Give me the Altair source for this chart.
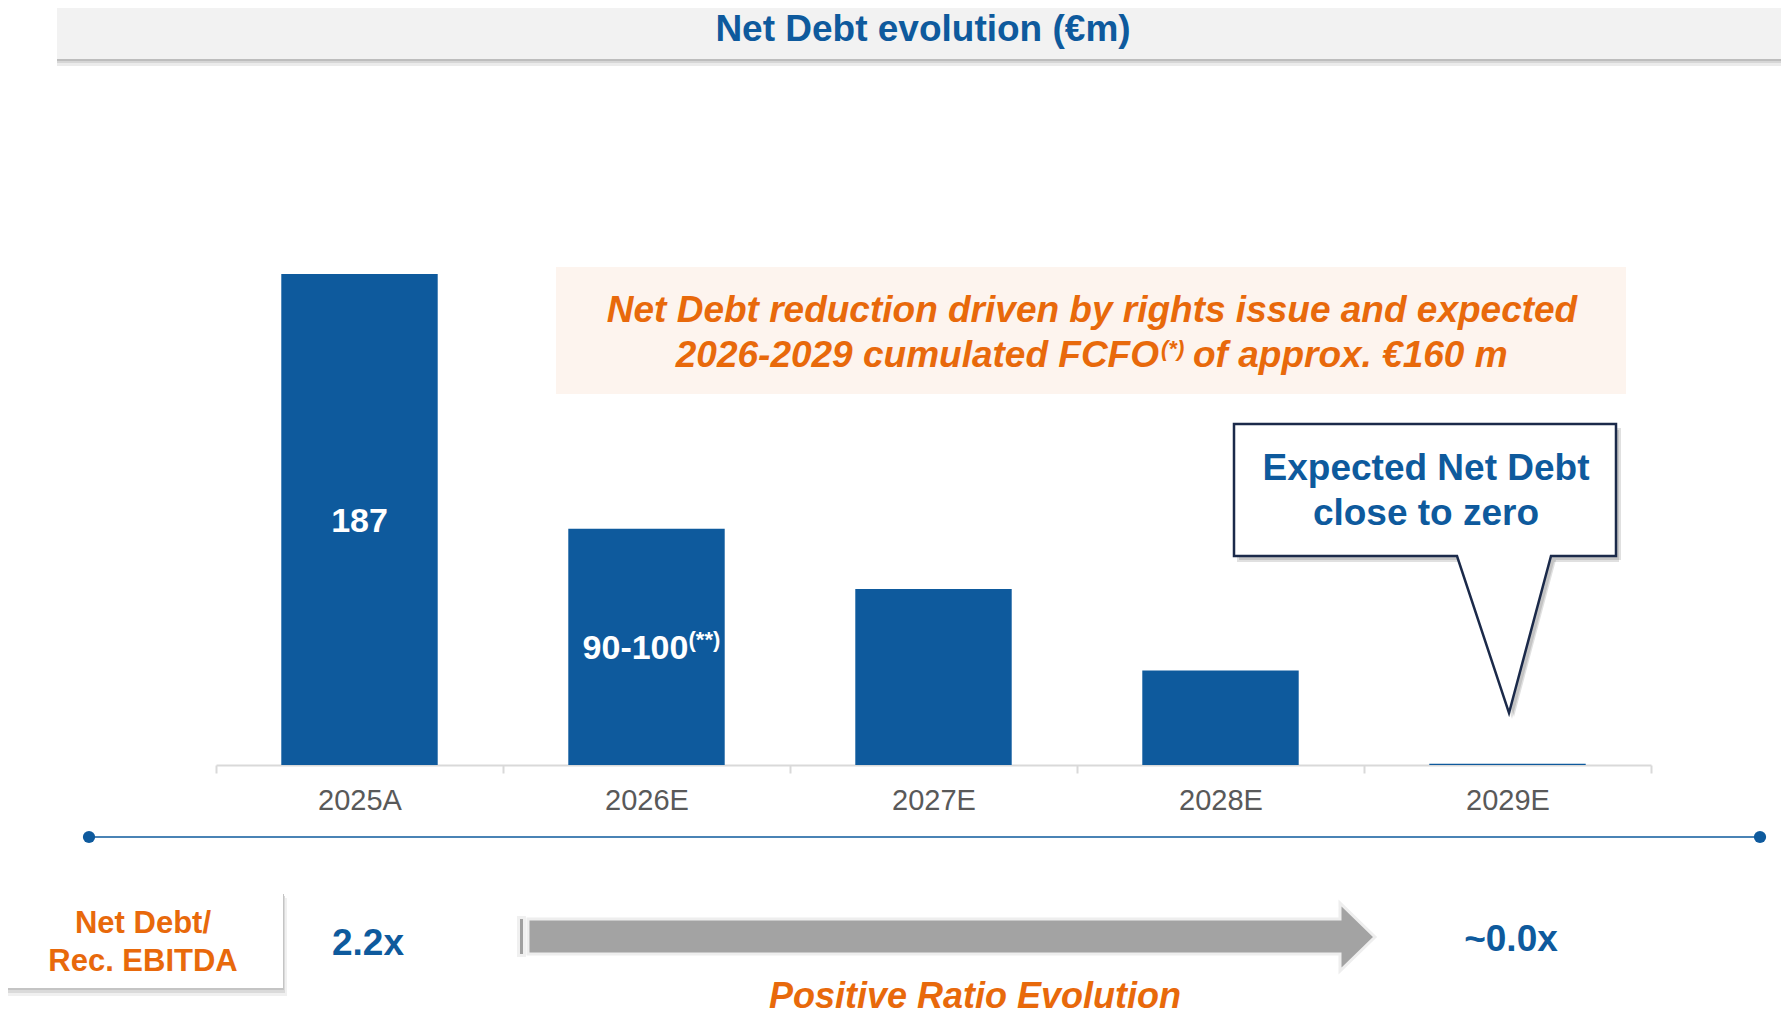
import altair as alt
import pandas as pd

# ---------------- data ----------------
categories = ["2025A", "2026E", "2027E", "2028E", "2029E"]
net_debt = [187, 90, 67, 36, 0.5]
bar_labels = ["187", "90-100", "", "", ""]
bar_notes = ["", "(**)", "", "", ""]

title_text = "Net Debt evolution (€m)"
note_line1 = "Net Debt reduction driven by rights issue and expected"
note_line2_a = "2026-2029 cumulated FCFO"
note_line2_sup = "(*)"
note_line2_b = "of approx. €160 m"
callout_lines = ["Expected Net Debt", "close to zero"]
ratio_label = ["Net Debt/", "Rec. EBITDA"]
ratio_start = "2.2x"
ratio_end = "~0.0x"
ratio_caption = "Positive Ratio Evolution"

# ---------------- style ----------------
BLUE = "#0E5A9D"
ORANGE = "#E8690B"
NAVY = "#1B2A4A"
FONT = "Liberation Sans"
W, H = 1773, 1007

df = pd.DataFrame({"year": categories, "value": net_debt,
                   "label": bar_labels, "note": bar_notes})
one = pd.DataFrame({"k": [0]})

x_enc = alt.X(
    "year:N", sort=categories, title=None,
    scale=alt.Scale(range=[208, 1643], paddingInner=0, paddingOuter=0),
    axis=alt.Axis(orient="bottom", offset=-250, domainColor="#D9D9D9", domainWidth=2,
                  tickColor="#D9D9D9", tickWidth=2, tickSize=8, tickBand="extent",
                  labelFont=FONT, labelFontSize=29, labelColor="#595959",
                  labelPadding=27, labelBaseline="middle", labelAngle=0, grid=False),
)
y_scale = alt.Scale(domain=[0, 187], range=[757, 266])


def yq(field):
    return alt.Y(field, scale=y_scale, axis=None, title=None)


bars = alt.Chart(df).mark_bar(color=BLUE, width={"band": 0.545}).encode(
    x=x_enc, y=yq("value:Q"))

base_lbl = alt.Chart(df).transform_calculate(mid="datum.value / 2")
lbl_plain = base_lbl.transform_filter("datum.label != '' && datum.note == ''").mark_text(
    font=FONT, fontSize=34, fontWeight="bold", color="white", baseline="middle", dy=2
).encode(x=x_enc, y=yq("mid:Q"), text="label:N")
lbl_noted = base_lbl.transform_filter("datum.note != ''").mark_text(
    font=FONT, fontSize=34, fontWeight="bold", color="white", baseline="middle",
    dx=-11, dy=2
).encode(x=x_enc, y=yq("mid:Q"), text="label:N")
lbl_sup = base_lbl.transform_filter("datum.note != ''").mark_text(
    font=FONT, fontSize=22, fontWeight="bold", color="white", baseline="middle",
    align="left", dx=42, dy=-7
).encode(x=x_enc, y=yq("mid:Q"), text="note:N")


def rect(x1, x2, y1, y2, color, opacity=1.0):
    return alt.Chart(one).mark_rect(color=color, opacity=opacity).encode(
        x=alt.value(x1), x2=alt.value(x2), y=alt.value(y1), y2=alt.value(y2))


def text(s, x, y, size, color, weight="bold", style="normal", align="center"):
    return alt.Chart(one).mark_text(
        text=s, font=FONT, fontSize=size, fontWeight=weight, fontStyle=style,
        color=color, align=align, baseline="middle"
    ).encode(x=alt.value(x), y=alt.value(y))


def shape(path, fill, stroke=None, sw=0, opacity=1.0, dx=0, dy=0):
    kw = dict(shape=path, size=4, filled=True, fill=fill, opacity=opacity,
              fillOpacity=1, strokeJoin="miter")
    if stroke:
        kw.update(stroke=stroke, strokeWidth=sw, strokeOpacity=1)
    else:
        kw.update(strokeWidth=0)
    return alt.Chart(one).mark_point(**kw).encode(x=alt.value(dx), y=alt.value(dy))


# banner
banner = [
    rect(49, W, 51, 53, "#BDBDBD"),
    rect(49, W, 53, 55, "#D6D6D6"),
    rect(49, W, 55, 58, "#EBEBEB"),
    rect(49, W, 0, 51, "#F2F2F2"),
    text(title_text, 915, 22, 37, BLUE),
]

# orange note box
note = [
    rect(548, 1618, 259, 386, "#FDF4EE"),
    text(note_line1, 1084, 303, 37, ORANGE, style="italic"),
    text(note_line2_a, 1151, 348, 37, ORANGE, style="italic", align="right"),
    text(note_line2_sup, 1153, 341, 22, ORANGE, style="italic", align="left"),
    text(note_line2_b, 1185, 348, 37, ORANGE, style="italic", align="left"),
]

# callout
callout_path = "M1226,416 L1608,416 L1608,548 L1543,548 L1501,705 L1449,548 L1226,548 Z"
callout = [
    shape(callout_path, "#000000", opacity=0.12, dx=3, dy=6),
    shape(callout_path, "#000000", opacity=0.12, dx=5, dy=4),
    shape(callout_path, "white", stroke=NAVY, sw=2.5),
    text(callout_lines[0], 1418, 461, 37, BLUE),
    text(callout_lines[1], 1418, 506, 37, BLUE),
]

# timeline
timeline = [
    alt.Chart(one).mark_rule(color=BLUE, strokeWidth=1.6).encode(
        x=alt.value(81), x2=alt.value(1752), y=alt.value(829)),
    alt.Chart(one).mark_point(filled=True, color=BLUE, size=150, opacity=1).encode(
        x=alt.value(81), y=alt.value(829)),
    alt.Chart(one).mark_point(filled=True, color=BLUE, size=150, opacity=1).encode(
        x=alt.value(1752), y=alt.value(829)),
]

# ratio row
arrow_path = "M520,911 L1332,911 L1332,895 L1367,929 L1332,963 L1332,946 L520,946 Z"
ratio = [
    rect(0, 279, 890, 988, "#F0F0F0"),
    rect(0, 277, 888, 985, "#DADADA"),
    rect(0, 276, 886, 982, "#C4C4C4"),
    rect(0, 275, 885, 980, "white"),
    text(ratio_label[0], 135, 916, 31, ORANGE),
    text(ratio_label[1], 135, 954, 31, ORANGE),
    text(ratio_start, 360, 936, 37, BLUE),
    rect(509, 518, 908, 949, "#F0F0F0"),
    rect(512, 515, 911, 946, "#A0A0A0"),
    shape(arrow_path, "#A3A3A3", stroke="#EEEEEE", sw=3),
    text(ratio_end, 1503, 932, 37, BLUE),
    text(ratio_caption, 967, 989, 36, ORANGE, style="italic"),
]

chart = alt.layer(
    *banner, *note, *callout, *timeline, *ratio,
    bars, lbl_plain, lbl_noted, lbl_sup,
).properties(
    width=W, height=H, autosize=alt.AutoSizeParams(type="none"), padding=0,
    background="white",
).configure_view(stroke=None)

chart.save("out.html", embed_options={"renderer": "svg", "actions": False})
